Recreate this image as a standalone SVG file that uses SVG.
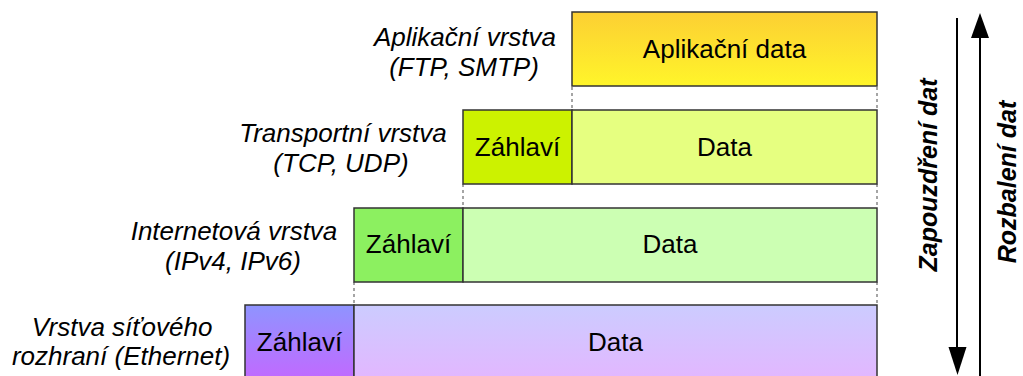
<svg xmlns="http://www.w3.org/2000/svg" width="1023" height="376" viewBox="0 0 1023 376">
<defs>
<linearGradient id="gApp" x1="0" y1="0" x2="0" y2="1"><stop offset="0" stop-color="#fccf33"/><stop offset="1" stop-color="#fff52a"/></linearGradient>
<linearGradient id="gLinkH" x1="0" y1="0" x2="0" y2="1"><stop offset="0" stop-color="#8f94ff"/><stop offset="1" stop-color="#c566ff"/></linearGradient>
<linearGradient id="gLinkD" x1="0" y1="0" x2="0" y2="1"><stop offset="0" stop-color="#ccccff"/><stop offset="1" stop-color="#e4b5ff"/></linearGradient>
</defs>
<style>
.box{stroke:#333;stroke-width:1.5}
.dot{stroke:#888;stroke-width:1.5;stroke-dasharray:3 3;fill:none}
.t{font-family:"Liberation Sans",Arial,sans-serif;font-size:26px;fill:#000;text-anchor:middle}
.lbl{font-family:"Liberation Sans",Arial,sans-serif;font-size:26px;font-style:italic;fill:#000;text-anchor:middle}
.side{font-family:"Liberation Sans",Arial,sans-serif;font-size:25px;font-style:italic;font-weight:bold;fill:#000;text-anchor:middle}
.arr{stroke:#000;stroke-width:2;fill:none}
</style>
<g id="connectors">
<line class="dot" x1="572" y1="87" x2="572" y2="110"/>
<line class="dot" x1="877" y1="87" x2="877" y2="110"/>
<line class="dot" x1="463" y1="184" x2="463" y2="208"/>
<line class="dot" x1="877" y1="184" x2="877" y2="208"/>
<line class="dot" x1="354" y1="282" x2="354" y2="305"/>
<line class="dot" x1="877" y1="282" x2="877" y2="305"/>
</g>
<g id="layer-app">
<text class="lbl" x="465" y="46">Aplikační vrstva</text>
<text class="lbl" x="464" y="76">(FTP, SMTP)</text>
<rect class="box" x="572" y="12" width="305" height="74" fill="url(#gApp)"/>
<text class="t" x="724.5" y="58">Aplikační data</text>
</g>
<g id="layer-transport">
<text class="lbl" x="343" y="142">Transportní vrstva</text>
<text class="lbl" x="341" y="172">(TCP, UDP)</text>
<rect class="box" x="463" y="110" width="109" height="74" fill="#ccf200"/>
<rect class="box" x="572" y="110" width="305" height="74" fill="#e6ff80"/>
<text class="t" x="517.5" y="156">Záhlaví</text>
<text class="t" x="724.5" y="156">Data</text>
</g>
<g id="layer-internet">
<text class="lbl" x="234" y="240">Internetová vrstva</text>
<text class="lbl" x="233" y="270">(IPv4, IPv6)</text>
<rect class="box" x="354" y="208" width="109" height="74" fill="#8cf060"/>
<rect class="box" x="463" y="208" width="414" height="74" fill="#ccffb3"/>
<text class="t" x="408.5" y="253">Záhlaví</text>
<text class="t" x="670" y="253">Data</text>
</g>
<g id="layer-link">
<text class="lbl" x="122" y="336">Vrstva síťového</text>
<text class="lbl" x="121" y="365">rozhraní (Ethernet)</text>
<rect class="box" x="245" y="305" width="109" height="80" fill="url(#gLinkH)"/>
<rect class="box" x="354" y="305" width="523" height="80" fill="url(#gLinkD)"/>
<text class="t" x="299.5" y="351">Záhlaví</text>
<text class="t" x="615.5" y="351">Data</text>
</g>
<g id="arrows">
<line class="arr" x1="957" y1="18" x2="957" y2="350"/>
<polygon points="948.5,347 966.5,347 957.5,375" fill="#000"/>
<line class="arr" x1="980" y1="376" x2="980" y2="36"/>
<polygon points="971,38 989,38 980,13" fill="#000"/>
<text class="side" transform="translate(937,175) rotate(-90)">Zapouzdření dat</text>
<text class="side" transform="translate(1016,182) rotate(-90)">Rozbalení dat</text>
</g>
</svg>
